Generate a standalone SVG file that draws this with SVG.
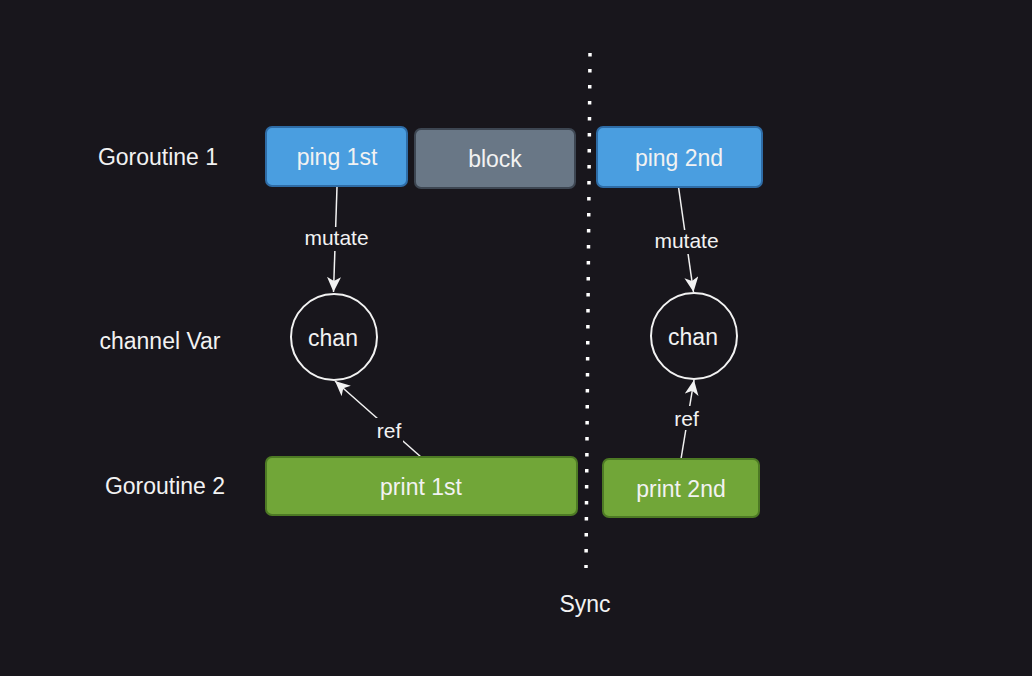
<svg xmlns="http://www.w3.org/2000/svg" width="1032" height="676" viewBox="0 0 1032 676">
<style>
text{font-family:"Liberation Sans",Arial,sans-serif;fill:#f2f2f2;text-anchor:middle}
.n{font-size:23px}
.e{font-size:21px}
.blue{fill:#4a9ee0;stroke:#2e6ca6;stroke-width:2}
.gray{fill:#697786;stroke:#3d4652;stroke-width:2}
.green{fill:#71a638;stroke:#4d7a24;stroke-width:2}
.circ{fill:none;stroke:#f2f2f2;stroke-width:2}
.con{stroke:#f2f2f2;stroke-width:1.5;fill:none}
.lbl{fill:#18161c}
</style>
<defs>
<marker id="arr" markerUnits="userSpaceOnUse" markerWidth="16" markerHeight="14" refX="15" refY="7" orient="auto">
<path d="M0,0 L15,7 L0,14 L4,7 Z" fill="#f2f2f2"/>
</marker>
</defs>
<rect width="1032" height="676" fill="#18161c"/>
<g id="labels">
<text class="n" x="158" y="165">Goroutine 1</text>
<text class="n" x="160" y="349">channel Var</text>
<text class="n" x="165" y="494">Goroutine 2</text>
<text class="n" x="585" y="612">Sync</text>
</g>
<g id="sync-line">
<line x1="590" y1="53" x2="586" y2="568" stroke="#ffffff" stroke-width="3.5" stroke-dasharray="3.5 12.5"/>
</g>
<g id="connectors">
<line class="con" x1="337" y1="187" x2="333.5" y2="292" marker-end="url(#arr)"/>
<line class="con" x1="678.5" y1="187" x2="693.5" y2="292" marker-end="url(#arr)"/>
<line class="con" x1="421" y1="457" x2="335" y2="381" marker-end="url(#arr)"/>
<line class="con" x1="681" y1="459" x2="694" y2="380" marker-end="url(#arr)"/>
<rect class="lbl" x="302" y="227" width="70" height="24"/>
<text class="e" x="336.5" y="245">mutate</text>
<rect class="lbl" x="652" y="230" width="70" height="24"/>
<text class="e" x="686.5" y="248">mutate</text>
<rect class="lbl" x="375" y="418" width="28" height="24"/>
<text class="e" x="389" y="438">ref</text>
<rect class="lbl" x="673" y="406" width="28" height="24"/>
<text class="e" x="686.5" y="426">ref</text>
</g>
<g id="ping1">
<rect class="blue" x="266" y="127" width="141" height="59" rx="6"/>
<text class="n" x="337" y="165">ping 1st</text>
</g>
<g id="block">
<rect class="gray" x="415" y="129" width="160" height="59" rx="6"/>
<text class="n" x="495" y="167">block</text>
</g>
<g id="ping2">
<rect class="blue" x="597" y="127" width="165" height="60" rx="6"/>
<text class="n" x="679" y="166">ping 2nd</text>
</g>
<g id="chan1">
<circle class="circ" cx="334" cy="337" r="43"/>
<text class="n" x="333" y="346">chan</text>
</g>
<g id="chan2">
<circle class="circ" cx="694" cy="336" r="43"/>
<text class="n" x="693" y="345">chan</text>
</g>
<g id="print1">
<rect class="green" x="266" y="457" width="311" height="58" rx="6"/>
<text class="n" x="421" y="495">print 1st</text>
</g>
<g id="print2">
<rect class="green" x="603" y="459" width="156" height="58" rx="6"/>
<text class="n" x="681" y="497">print 2nd</text>
</g>
</svg>
